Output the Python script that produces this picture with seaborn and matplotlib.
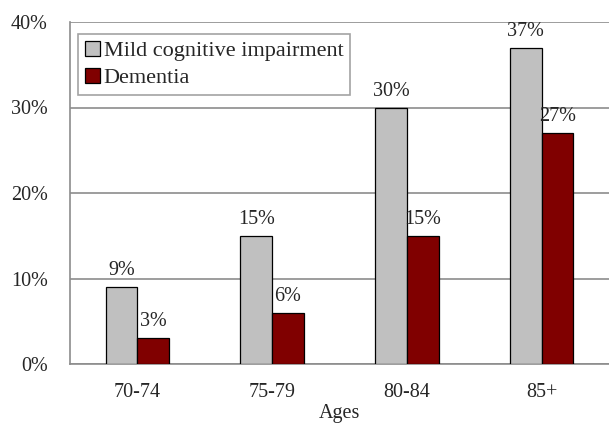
import numpy as np
import pandas as pd
import matplotlib
matplotlib.use("Agg")
import matplotlib.pyplot as plt
import seaborn as sns
from matplotlib.ticker import FuncFormatter

ages = ["70-74", "75-79", "80-84", "85+"]
mci = [9, 15, 30, 37]
dementia = [3, 6, 15, 27]
series = ["Mild cognitive impairment", "Dementia"]
colors = ["#c0c0c0", "#800000"]

df = pd.DataFrame({
    "Ages": ages * 2,
    "value": mci + dementia,
    "group": [series[0]] * len(ages) + [series[1]] * len(ages),
})

sns.set_style("white")
plt.rcParams["font.family"] = ["Liberation Serif", "DejaVu Serif"]

fig = plt.figure(figsize=(6.09, 4.26), dpi=100)
ax = fig.add_axes([70 / 609, 1 - 364 / 426, 1 - 70 / 609, (364 - 22) / 426])

sns.barplot(data=df, x="Ages", y="value", hue="group", palette=colors,
            saturation=1, width=0.47, edgecolor="black", linewidth=0.9,
            ax=ax, zorder=3)

for cont in ax.containers:
    labels = [f"{v:.0f}%" for v in cont.datavalues]
    ax.bar_label(cont, labels=labels, padding=5, fontsize=14.5)

ax.set_ylim(0, 40)
ax.set_xlim(-0.5, 3.5)
ax.set_yticks([0, 10, 20, 30, 40])
ax.yaxis.set_major_formatter(FuncFormatter(lambda v, p: f"{v:.0f}%"))
ax.yaxis.grid(True, color="#8c8c8c", linewidth=1.2, zorder=0)
ax.set_ylabel("")
ax.set_xlabel("Ages", fontsize=14.5, labelpad=1)

# x ticks at category boundaries, labels at centers
ax.set_xticks([-0.5, 0.5, 1.5, 2.5, 3.5])
ax.set_xticklabels([])
ax.set_xticks(range(len(ages)), minor=True)
ax.set_xticklabels(ages, minor=True, fontsize=14.5)
ax.tick_params(axis="x", which="major", direction="out", length=6, color="#8c8c8c", width=1.2)
ax.tick_params(axis="x", which="minor", length=0, pad=14)
ax.tick_params(axis="y", direction="out", length=6, color="#8c8c8c", width=1.2, labelsize=14.5, pad=10)

for s in ["top", "right"]:
    ax.spines[s].set_visible(False)
for s in ["left", "bottom"]:
    ax.spines[s].set_color("#8c8c8c")
    ax.spines[s].set_linewidth(1.2)

leg = ax.legend(loc="upper left", bbox_to_anchor=(0.015, 0.965), fontsize=16,
                frameon=True, fancybox=False, edgecolor="#8c8c8c",
                handlelength=0.7, handleheight=0.7, handletextpad=0.15,
                borderpad=0.3, labelspacing=0.3, borderaxespad=0)
leg.get_frame().set_linewidth(1.2)
for h in leg.legend_handles:
    h.set_edgecolor("black")

fig.savefig("out.png", dpi=100)
